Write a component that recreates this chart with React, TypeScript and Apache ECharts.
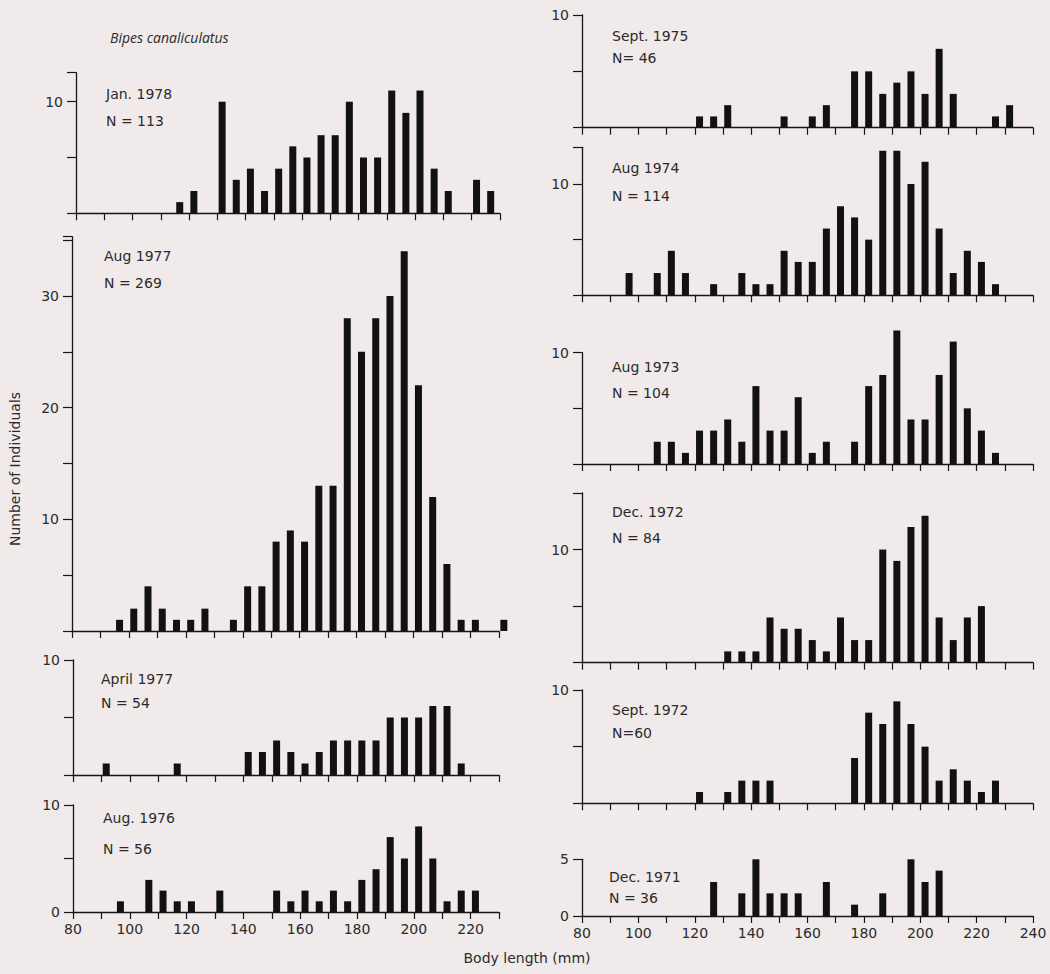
import React, { useEffect, useRef } from "react";
import * as echarts from "echarts";

// ---------- DATA (bin start in mm, number of individuals) ----------
const jan1978Bins = [115, 120, 130, 135, 140, 145, 150, 155, 160, 165, 170, 175, 180, 185, 190, 195, 200, 205, 210, 220, 225];
const jan1978Counts = [1, 2, 10, 3, 4, 2, 4, 6, 5, 7, 7, 10, 5, 5, 11, 9, 11, 4, 2, 3, 2];

const aug1977Bins = [95, 100, 105, 110, 115, 120, 125, 135, 140, 145, 150, 155, 160, 165, 170, 175, 180, 185, 190, 195, 200, 205, 210, 215, 220, 230];
const aug1977Counts = [1, 2, 4, 2, 1, 1, 2, 1, 4, 4, 8, 9, 8, 13, 13, 28, 25, 28, 30, 34, 22, 12, 6, 1, 1, 1];

const apr1977Bins = [90, 115, 140, 145, 150, 155, 160, 165, 170, 175, 180, 185, 190, 195, 200, 205, 210, 215];
const apr1977Counts = [1, 1, 2, 2, 3, 2, 1, 2, 3, 3, 3, 3, 5, 5, 5, 6, 6, 1];

const aug1976Bins = [95, 105, 110, 115, 120, 130, 150, 155, 160, 165, 170, 175, 180, 185, 190, 195, 200, 205, 210, 215, 220];
const aug1976Counts = [1, 3, 2, 1, 1, 2, 2, 1, 2, 1, 2, 1, 3, 4, 7, 5, 8, 5, 1, 2, 2];

const sep1975Bins = [120, 125, 130, 150, 160, 165, 175, 180, 185, 190, 195, 200, 205, 210, 225, 230];
const sep1975Counts = [1, 1, 2, 1, 1, 2, 5, 5, 3, 4, 5, 3, 7, 3, 1, 2];

const aug1974Bins = [95, 105, 110, 115, 125, 135, 140, 145, 150, 155, 160, 165, 170, 175, 180, 185, 190, 195, 200, 205, 210, 215, 220, 225];
const aug1974Counts = [2, 2, 4, 2, 1, 2, 1, 1, 4, 3, 3, 6, 8, 7, 5, 13, 13, 10, 12, 6, 2, 4, 3, 1];

const aug1973Bins = [105, 110, 115, 120, 125, 130, 135, 140, 145, 150, 155, 160, 165, 175, 180, 185, 190, 195, 200, 205, 210, 215, 220, 225];
const aug1973Counts = [2, 2, 1, 3, 3, 4, 2, 7, 3, 3, 6, 1, 2, 2, 7, 8, 12, 4, 4, 8, 11, 5, 3, 1];

const dec1972Bins = [130, 135, 140, 145, 150, 155, 160, 165, 170, 175, 180, 185, 190, 195, 200, 205, 210, 215, 220];
const dec1972Counts = [1, 1, 1, 4, 3, 3, 2, 1, 4, 2, 2, 10, 9, 12, 13, 4, 2, 4, 5];

const sep1972Bins = [120, 130, 135, 140, 145, 175, 180, 185, 190, 195, 200, 205, 210, 215, 220, 225];
const sep1972Counts = [1, 1, 2, 2, 2, 4, 8, 7, 9, 7, 5, 2, 3, 2, 1, 2];

const dec1971Bins = [125, 135, 140, 145, 150, 155, 165, 175, 185, 195, 200, 205];
const dec1971Counts = [3, 2, 5, 2, 2, 2, 3, 1, 2, 5, 3, 4];

const leftXTickLabels = [80, 100, 120, 140, 160, 180, 200, 220];
const rightXTickLabels = [80, 100, 120, 140, 160, 180, 200, 220, 240];

// ---------- LAYOUT ----------
type Panel = {
  title: string;
  n: string;
  bins: number[];
  counts: number[];
  side: "L" | "R";
  left: number;
  right: number;
  top: number;
  bottom: number;
  yMax: number;
  yLabels: number[];
  xLabels: boolean;
  tx: number;
  ty1: number;
  ty2: number;
};

const panels: Panel[] = [
  { title: "Jan. 1978", n: "N = 113", bins: jan1978Bins, counts: jan1978Counts, side: "L", left: 76, right: 500, top: 72.7, bottom: 213.3, yMax: 12.6, yLabels: [10], xLabels: false, tx: 106, ty1: 94, ty2: 121 },
  { title: "Aug 1977", n: "N = 269", bins: aug1977Bins, counts: aug1977Counts, side: "L", left: 72, right: 499, top: 236.7, bottom: 631, yMax: 35.3, yLabels: [10, 20, 30], xLabels: false, tx: 104, ty1: 256, ty2: 283 },
  { title: "April 1977", n: "N = 54", bins: apr1977Bins, counts: apr1977Counts, side: "L", left: 73, right: 499, top: 660, bottom: 775, yMax: 10, yLabels: [10], xLabels: false, tx: 101, ty1: 679, ty2: 703 },
  { title: "Aug. 1976", n: "N = 56", bins: aug1976Bins, counts: aug1976Counts, side: "L", left: 73, right: 499, top: 805, bottom: 912, yMax: 10, yLabels: [0, 10], xLabels: true, tx: 103, ty1: 818, ty2: 849 },
  { title: "Sept. 1975", n: "N= 46", bins: sep1975Bins, counts: sep1975Counts, side: "R", left: 582, right: 1033, top: 15, bottom: 127.7, yMax: 10, yLabels: [10], xLabels: false, tx: 612, ty1: 36, ty2: 58 },
  { title: "Aug 1974", n: "N = 114", bins: aug1974Bins, counts: aug1974Counts, side: "R", left: 582, right: 1033, top: 147.3, bottom: 295.3, yMax: 13.3, yLabels: [10], xLabels: false, tx: 612, ty1: 168, ty2: 196 },
  { title: "Aug 1973", n: "N = 104", bins: aug1973Bins, counts: aug1973Counts, side: "R", left: 582, right: 1033, top: 352.7, bottom: 464, yMax: 10, yLabels: [10], xLabels: false, tx: 612, ty1: 367, ty2: 393 },
  { title: "Dec. 1972", n: "N = 84", bins: dec1972Bins, counts: dec1972Counts, side: "R", left: 582, right: 1033, top: 493, bottom: 662.7, yMax: 15, yLabels: [10], xLabels: false, tx: 612, ty1: 512, ty2: 538 },
  { title: "Sept. 1972", n: "N=60", bins: sep1972Bins, counts: sep1972Counts, side: "R", left: 582, right: 1033, top: 690, bottom: 803.3, yMax: 10, yLabels: [10], xLabels: false, tx: 612, ty1: 710, ty2: 733 },
  { title: "Dec. 1971", n: "N = 36", bins: dec1971Bins, counts: dec1971Counts, side: "R", left: 582, right: 1033, top: 859.3, bottom: 916, yMax: 5, yLabels: [0, 5], xLabels: true, tx: 609, ty1: 877, ty2: 898 },
];

const INK = "#161616";
const TXT = "#2b2b2b";
const BG = "#f0eaea";
const FONT = "'DejaVu Sans', 'Open Sans', sans-serif";
const ITALIC_FONT = "'Open Sans', 'Noto Sans', sans-serif";
const BIN_OFFSET = 1.7;

function buildOption(): any {
  const grid = panels.map((p) => ({
    left: p.left,
    top: p.top,
    width: p.right - p.left,
    height: p.bottom - p.top,
  }));

  const xAxis = panels.map((p, i) => {
    const labels = p.side === "L" ? leftXTickLabels : rightXTickLabels;
    return {
      gridIndex: i,
      type: "value",
      min: 80,
      max: p.side === "L" ? 230 : 240,
      interval: 10,
      axisLine: { show: true, onZero: false, lineStyle: { color: INK, width: 1.3 } },
      axisTick: { show: true, inside: false, length: 7, lineStyle: { color: INK, width: 1.2 } },
      axisLabel: {
        show: p.xLabels,
        formatter: (v: number) => (labels.includes(v) ? String(v) : ""),
        color: TXT,
        fontSize: 14,
        fontFamily: FONT,
        margin: 10,
      },
      splitLine: { show: false },
    };
  });

  const yAxis = panels.map((p, i) => ({
    gridIndex: i,
    type: "value",
    min: 0,
    max: p.yMax,
    interval: 5,
    axisLine: { show: true, onZero: false, lineStyle: { color: INK, width: 1.3 } },
    axisTick: { show: true, inside: false, length: 9, lineStyle: { color: INK, width: 1.2 } },
    axisLabel: {
      show: true,
      formatter: (v: number) => (p.yLabels.includes(v) ? String(v) : ""),
      color: TXT,
      fontSize: 14,
      fontFamily: FONT,
      margin: 13,
    },
    splitLine: { show: false },
  }));

  const series = panels.map((p, i) => ({
    type: "bar",
    xAxisIndex: i,
    yAxisIndex: i,
    data: p.bins.map((b, j) => [b + BIN_OFFSET, p.counts[j]]),
    barWidth: 7,
    itemStyle: { color: "#111111" },
    clip: false,
    silent: true,
  }));

  const texts: any[] = [];
  panels.forEach((p) => {
    texts.push({
      type: "text",
      x: p.tx,
      y: p.ty1,
      style: { text: p.title, fill: TXT, fontSize: 14, fontFamily: FONT, align: "left", verticalAlign: "middle" },
    });
    texts.push({
      type: "text",
      x: p.tx,
      y: p.ty2,
      style: { text: p.n, fill: TXT, fontSize: 14, fontFamily: FONT, align: "left", verticalAlign: "middle" },
    });
  });
  texts.push({
    type: "text",
    x: 110,
    y: 37,
    style: { text: "Bipes canaliculatus", fill: TXT, fontSize: 14, fontStyle: "italic", fontFamily: ITALIC_FONT, align: "left", verticalAlign: "middle" },
  });
  texts.push({
    type: "text",
    x: 15,
    y: 469,
    rotation: Math.PI / 2,
    style: { text: "Number of Individuals", fill: TXT, fontSize: 14, fontFamily: FONT, align: "center", verticalAlign: "middle" },
  });
  texts.push({
    type: "text",
    x: 527,
    y: 958,
    style: { text: "Body length (mm)", fill: TXT, fontSize: 14, fontFamily: FONT, align: "center", verticalAlign: "middle" },
  });

  return {
    animation: false,
    backgroundColor: BG,
    grid,
    xAxis,
    yAxis,
    series,
    graphic: texts,
  };
}

export default function App() {
  const ref = useRef<HTMLDivElement>(null);
  useEffect(() => {
    if (!ref.current) return;
    const chart = echarts.init(ref.current, undefined, { renderer: "svg" });
    chart.setOption(buildOption());
    return () => chart.dispose();
  }, []);
  return (
    <div
      ref={ref}
      style={{ position: "fixed", left: 0, top: 0, width: 1050, height: 974, background: BG }}
    />
  );
}
